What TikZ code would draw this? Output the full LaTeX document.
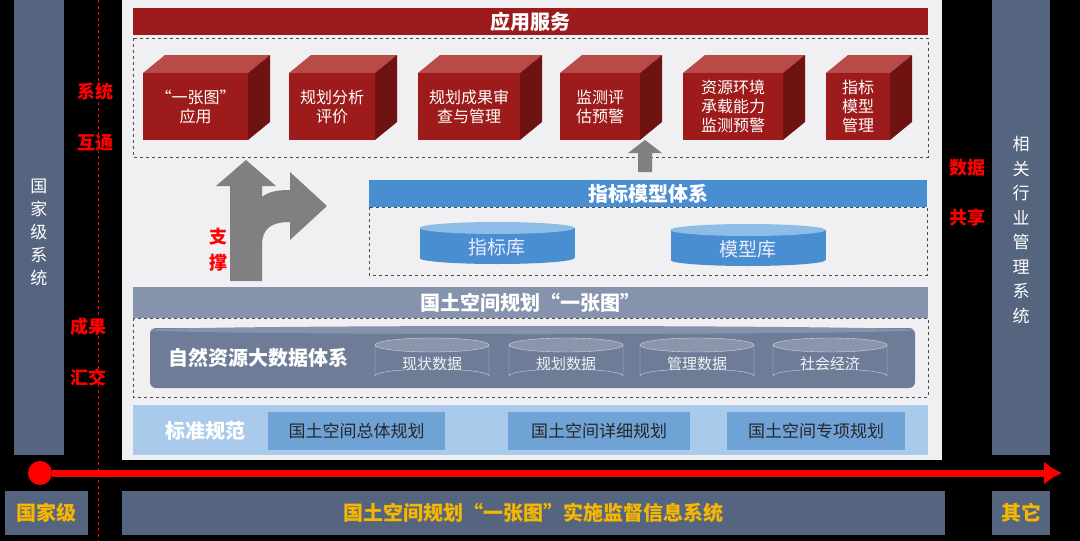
\documentclass[tikz,border=0pt]{standalone}
\usepackage{fontspec}
\usetikzlibrary{arrows.meta}
\setmainfont{Noto Sans CJK SC}
\begin{document}
\begin{tikzpicture}[x=1pt,y=-1pt,
  slate/.style={fill=slate},
  redlbl/.style={text=red,font=\bfseries\fontsize{18}{18}\selectfont,inner sep=0},
  bartxt/.style={text=white,font=\bfseries\fontsize{20}{20}\selectfont},
  boxtxt/.style={text=white,font=\fontsize{16}{19}\selectfont,align=center},
  dbox/.style={draw=black!70,dashed,thick},
  ]
\definecolor{slate}{HTML}{56657F}
\definecolor{panel}{HTML}{F0F0F2}
\definecolor{dred}{HTML}{9E1B1B}
\definecolor{tred}{HTML}{B84A48}
\definecolor{sred}{HTML}{6E1212}
\definecolor{bblue}{HTML}{4A8ED2}
\definecolor{lblue}{HTML}{8DBCE6}
\definecolor{gbar}{HTML}{8593AC}
\definecolor{gdata}{HTML}{6E7C98}
\definecolor{sblue}{HTML}{A9CAEA}
\definecolor{mblue}{HTML}{6FA3D6}
\definecolor{gold}{HTML}{F5B700}
\fill[black] (0,0) rectangle (1080,541);
\useasboundingbox (0,0) rectangle (1080,541);
% side bars
\fill[slate] (14,0) rectangle (64,455);
\node[text=white,font=\fontsize{17}{23}\selectfont,align=center] (nat) at (39,232) {国\\家\\级\\系\\统};
\fill[slate] (992,0) rectangle (1050,455);
\node[text=white,font=\fontsize{17}{24.5}\selectfont,align=center] (ind) at (1021,230) {相\\关\\行\\业\\管\\理\\系\\统};
\draw[red,dashed,thick] (98,0) -- (98,541);
\node[redlbl] (l1) at (95,92) {系统};
\node[redlbl] (l2) at (95,143) {互通};
\node[redlbl] (l3) at (88,327) {成果};
\node[redlbl] (l4) at (88,378) {汇交};
\node[redlbl] (l5) at (967,168) {数据};
\node[redlbl] (l6) at (967,218) {共享};
% panel
\fill[panel] (122,0) rectangle (942,460);
% app services
\node[fill=dred,minimum width=795,minimum height=27,inner sep=0,bartxt,anchor=north west] (app) at (133,8) {应用服务};
\draw[dbox] (133,38) rectangle (928,157);
\newcommand\cube[4]{%
  \fill[tred] (#1,73) -- (#1+22,55) -- (#2+22,55) -- (#2,73) -- cycle;
  \fill[sred] (#2,73) -- (#2+22,55) -- (#2+22,122) -- (#2,140) -- cycle;
  \node[fill=dred,minimum width=#2-#1,minimum height=67,inner sep=0,boxtxt,anchor=north west] (#3) at (#1,73) {#4};}
\cube{143}{248}{c1}{“一张图”\\应用}
\cube{289}{375}{c2}{规划分析\\评价}
\cube{418}{520}{c3}{规划成果审\\查与管理}
\cube{560}{640}{c4}{监测评\\估预警}
\cube{683}{783}{c5}{资源环境\\承载能力\\监测预警}
\cube{826}{890}{c6}{指标\\模型\\管理}
% index model system
\node[fill=bblue,minimum width=558,minimum height=27,inner sep=0,bartxt,anchor=north west] (ims) at (369,180) {指标模型体系};
\draw[dbox] (369,207) rectangle (927,275);
\coordinate (upb) at (645,172);
\fill[gray] (638,172) -- (638,153) -- (628,153) -- (645,140) -- (662,153) -- (652,153) -- (652,172) -- cycle;
% branch arrow
\fill[gray] (230,281) -- (230,186) -- (216,186) -- (246,160) -- (276,186) -- (262,186) -- (262,197)
  .. controls (268,192) and (276,190) .. (290,190) -- (290,172) -- (327,206) -- (290,240) -- (290,222)
  .. controls (272,222) and (262,228) .. (262,245) -- (262,281) -- cycle;
\node[redlbl,align=center,font=\bfseries\fontsize{18}{26}\selectfont] (zc) at (218,250) {支\\撑};
\newcommand\cyl[9]{% cx cy w h ry body top text name
  \fill[#6] (#1-#3/2,#2-#4/2) rectangle (#1+#3/2,#2+#4/2);
  \fill[#6] (#1,#2+#4/2) ellipse[x radius=#3/2,y radius=#5];
  \fill[#7] (#1,#2-#4/2) ellipse[x radius=#3/2,y radius=#5];
  \node[text=white!92!blue,font=\fontsize{19}{19}\selectfont] (#9) at (#1,#2+4) {#8};}
\cyl{497}{243}{155}{30}{6}{bblue}{lblue}{指标库}{k1}
\cyl{748}{245}{155}{30}{6}{bblue}{lblue}{模型库}{k2}
% one map
\node[fill=gbar,minimum width=795,minimum height=31,inner sep=0,bartxt,anchor=north west] (map) at (133,287) {国土空间规划“一张图”};
\draw[dbox] (133,318) rectangle (928,397);
\fill[gdata,rounded corners=6] (150,328) rectangle (915,388);
\fill[gbar] (532,330) ellipse[x radius=382,y radius=4];
\node[bartxt,font=\bfseries\fontsize{20}{20}\selectfont] (nr) at (258,358) {自然资源大数据体系};
\newcommand\dcyl[4]{%
  \draw[white!70!gdata,fill=gdata] (#1-57,345) -- (#1-57,376) arc[start angle=180,end angle=360,x radius=57,y radius=7] -- (#1+57,345);
  \draw[white!70!gdata,fill=white!20!gdata] (#1,345) ellipse[x radius=57,y radius=7];
  \node[text=white!90!gdata,font=\fontsize{15}{15}\selectfont] (#3) at (#1,364) {#2};}
\dcyl{432}{现状数据}{d1}{}
\dcyl{566}{规划数据}{d2}{}
\dcyl{697}{管理数据}{d3}{}
\dcyl{830}{社会经济}{d4}{}
% standards
\fill[sblue] (133,405) rectangle (928,455);
\node[bartxt] (std) at (205,431) {标准规范};
\tikzset{sbox/.style={fill=mblue,inner sep=0,minimum height=38,text=black!85,font=\fontsize{17}{17}\selectfont,anchor=north west}}
\node[sbox,minimum width=177] (s1) at (268,412) {国土空间总体规划};
\node[sbox,minimum width=182] (s2) at (508,412) {国土空间详细规划};
\node[sbox,minimum width=178] (s3) at (727,412) {国土空间专项规划};
% red arrow
\node[circle,fill=red,minimum size=24,inner sep=0] (st) at (40,473) {};
\coordinate (en) at (1062,473);
\draw[red,line width=7,-{Latex[length=18,width=24]}] (st) -- (en);
% bottom
\tikzset{btm/.style={fill=slate,inner sep=0,minimum height=44,text=gold,font=\bfseries\fontsize{20}{20}\selectfont,anchor=north west}}
\node[btm,minimum width=83] (b1) at (5,491) {国家级};
\node[btm,minimum width=823] (b2) at (122,491) {国土空间规划“一张图”实施监督信息系统};
\node[btm,minimum width=58] (b3) at (992,491) {其它};
\end{tikzpicture}
\end{document}
